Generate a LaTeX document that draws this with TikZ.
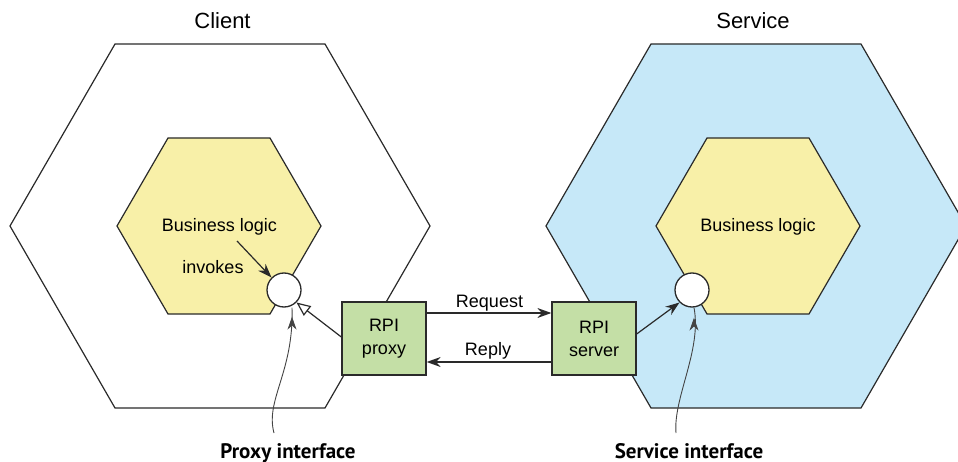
\documentclass[tikz,border=0pt]{standalone}
\usepackage{fontspec}
\setmainfont{Liberation Sans}
\newfontfamily\boldlab{PT Sans}
\usetikzlibrary{arrows.meta}
\definecolor{edge}{HTML}{2A2A2A}
\definecolor{hexyellow}{HTML}{F8F0A8}
\definecolor{hexblue}{HTML}{C6E8F8}
\definecolor{boxgreen}{HTML}{C4DFA6}
\definecolor{pointer}{HTML}{444444}
\begin{document}
\begin{tikzpicture}[x=1pt,y=-1pt,
  hexline/.style={draw=edge, line width=1.2pt},
  rpibox/.style={draw=edge, line width=1.3pt, fill=boxgreen, minimum width=84pt, minimum height=73pt, inner sep=0pt, align=center, font=\fontsize{18}{23}\selectfont},
  port/.style={circle, draw=edge, line width=1.3pt, fill=white, minimum size=34pt, inner sep=0pt},
  lab/.style={font=\fontsize{18}{21}\selectfont, inner sep=0pt, anchor=base},
  title/.style={font=\fontsize{22}{26}\selectfont, inner sep=0pt, anchor=base},
  ifacelab/.style={font=\boldlab\bfseries\fontsize{21}{25}\selectfont, inner sep=0pt, anchor=base},
  conn/.style={draw=edge, line width=1.2pt, -{Stealth[length=14pt,width=10pt]}},
  hollow/.style={draw=edge, line width=1.2pt, -{Triangle[open, length=14pt, width=12pt, fill=white]}},
  pointerline/.style={draw=pointer, line width=0.9pt, -{Stealth[length=13pt,width=9pt]}}
]
\useasboundingbox (0,0) rectangle (958,462);
% outer hexagons
\draw[hexline, fill=white] (430,226) -- (325,44) -- (115,44) -- (10,226) -- (115,408) -- (325,408) -- cycle;
\draw[hexline, fill=hexblue] (966,226) -- (861,44) -- (651,44) -- (546,226) -- (651,408) -- (861,408) -- cycle;
% inner hexagons
\draw[hexline, fill=hexyellow] (321,226) -- (270,138) -- (168,138) -- (117,226) -- (168,314) -- (270,314) -- cycle;
\draw[hexline, fill=hexyellow] (860,226) -- (809,138) -- (707,138) -- (656,226) -- (707,314) -- (809,314) -- cycle;
% titles
\node[title] (client) at (222.5,29) {Client};
\node[title] (service) at (753,29) {Service};
% business logic
\node[lab] (blc) at (219.5,232) {Business logic};
\node[lab] (bls) at (758,232) {Business logic};
\node[lab] (inv) at (213,273) {invokes};
% ports
\node[port] (pc) at (284,290) {};
\node[port] (ps) at (692,290) {};
% boxes
\node[rpibox] (proxy) at (384,338.5) {RPI\\proxy};
\node[rpibox] (server) at (594,338.5) {RPI\\server};
% connectors
\coordinate (invs) at (237,241);
\draw[conn] (invs) -- (pc.north west);
\draw[conn] (proxy.east |- 0,313) -- (server.west |- 0,313);
\node[lab] (req) at (489.5,307) {Request};
\draw[conn] (server.west |- 0,362) -- (proxy.east |- 0,362);
\node[lab] (rep) at (488,355) {Reply};
\draw[hollow] (proxy.west |- 0,337) -- (pc.south east);
\draw[conn] (server.east |- 0,334) -- (ps.south west);
% interface labels
\node[ifacelab] (pil) at (288,458) {Proxy interface};
\node[ifacelab] (sil) at (689,458) {Service interface};
\coordinate (pilc) at (274,433);
\coordinate (silc) at (676,433);
\draw[pointerline] (pilc) .. controls (265,400) and (294,372) .. (pc.south -| 292,0) ++(0,9);
\draw[pointerline] (silc) .. controls (673,398) and (702,350) .. (ps.south -| 694,0) ++(0,10);
\end{tikzpicture}
\end{document}
